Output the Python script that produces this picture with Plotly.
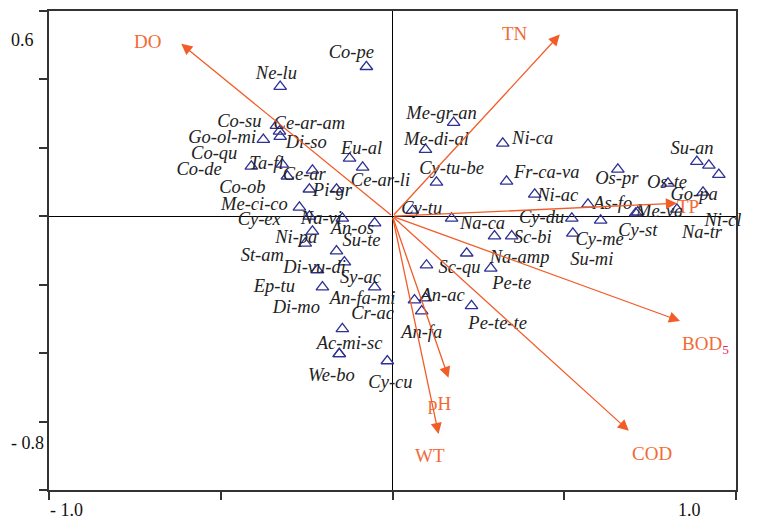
import plotly.graph_objects as go

# ---- species (triangles) ----
species = ["Co-pe", "Ne-lu", "Co-su", "Ce-ar-am", "Di-so", "Go-ol-mi", "Co-qu", "Co-de",
           "Ta-fl", "Ce-ar", "Co-ob", "Eu-al", "Ce-ar-li", "Pi-gr", "Me-ci-co", "Cy-ex",
           "Na-vi", "An-os", "Ni-pa", "St-am", "Su-te", "Di-vu-di", "Sy-ac", "Ep-tu",
           "An-fa-mi", "Di-mo", "Cr-ac", "Ac-mi-sc", "We-bo", "Cy-cu",
           "Me-gr-an", "Me-di-al", "Ni-ca", "Cy-tu-be", "Fr-ca-va", "Ni-ac", "Cy-tu", "Na-ca",
           "Cy-du", "Sc-bi", "Su-mi", "Cy-me", "As-fo", "Cy-st", "Os-pr", "Os-te", "Su-an",
           "Ta-fe", "Ni-eg", "Go-pa", "Me-va", "Na-tr", "Ni-cl", "Na-amp", "Sc-qu", "Pe-te",
           "An-ac", "An-fa", "Pe-te-te"]
sp_x = [-0.076, -0.327, -0.338, -0.329, -0.327, -0.376, -0.411, -0.233,
        -0.321, -0.306, -0.242, -0.125, -0.087, -0.163, -0.271, -0.242,
        -0.146, -0.052, -0.233, -0.254, -0.163, -0.219, -0.052, -0.204,
        0.064, -0.140, -0.146, -0.155, -0.155, -0.015,
        0.178, 0.096, 0.321, 0.128, 0.332, 0.414, 0.058, 0.172,
        0.522, 0.347, 0.297, 0.525, 0.569, 0.606, 0.656, 0.802, 0.886,
        0.921, 0.950, 0.904, 0.714, 0.708, 0.828, 0.216, 0.099, 0.286,
        0.096, 0.085, 0.230]
sp_y = [0.437, 0.379, 0.265, 0.248, 0.233, 0.224, 0.146, 0.134,
        0.152, 0.117, 0.079, 0.169, 0.143, 0.079, 0.026, 0.000,
        -0.006, -0.020, -0.044, -0.079, -0.102, -0.157, -0.207, -0.207,
        -0.245, -0.134, -0.329, -0.402, -0.402, -0.423,
        0.274, 0.195, 0.213, 0.099, 0.102, 0.064, 0.017, -0.006,
        -0.006, -0.058, -0.058, -0.050, 0.035, -0.012, 0.137, 0.096, 0.160,
        0.149, 0.122, 0.070, 0.012, 0.009, 0.020, -0.108, -0.143, -0.152,
        -0.239, -0.277, -0.262]
# label anchor positions (axis units)
lab_x = [-0.120, -0.338, -0.446, -0.242, -0.251, -0.496, -0.519, -0.563,
         -0.367, -0.257, -0.437, -0.090, -0.035, -0.175, -0.402, -0.388,
         -0.207, -0.117, -0.280, -0.379, -0.090, -0.227, -0.093, -0.344,
         -0.087, -0.280, -0.058, -0.125, -0.178, -0.006,
         0.143, 0.128, 0.408, 0.172, 0.449, 0.481, 0.085, 0.262,
         0.434, 0.408, 0.580, 0.603, 0.641, 0.714, 0.653, 0.799, 0.872,
         1.003, 1.032, 0.878, 0.778, 0.901, 0.962, 0.370, 0.195, 0.347,
         0.146, 0.085, 0.306]
lab_y = [0.475, 0.414, 0.274, 0.268, 0.213, 0.227, 0.181, 0.134,
         0.152, 0.120, 0.082, 0.195, 0.102, 0.073, 0.032, -0.012,
         -0.009, -0.038, -0.064, -0.117, -0.073, -0.152, -0.181, -0.207,
         -0.242, -0.268, -0.286, -0.373, -0.469, -0.487,
         0.297, 0.222, 0.224, 0.137, 0.125, 0.058, 0.020, -0.023,
         -0.006, -0.064, -0.128, -0.070, 0.035, -0.044, 0.108, 0.096, 0.195,
         0.152, 0.096, 0.061, 0.012, -0.050, -0.015, -0.122, -0.152, -0.198,
         -0.233, -0.341, -0.315]

# ---- environmental variables (arrows) ----
env = ["DO", "TN", "TP", "BOD5", "COD", "pH", "WT"]
env_x = [-0.615, 0.487, 0.828, 0.837, 0.688, 0.163, 0.134]
env_y = [0.504, 0.531, 0.038, -0.306, -0.627, -0.472, -0.636]
env_lab_x = [-0.714, 0.356, 0.860, 0.910, 0.755, 0.137, 0.108]
env_lab_y = [0.510, 0.534, 0.029, -0.376, -0.694, -0.548, -0.700]

ARROW = "#F25C27"
LABC = "#F26A35"
TRI = "#2E3192"
SERIF = "Liberation Serif"

fig = go.Figure()
fig.add_trace(go.Scatter(
    x=sp_x, y=sp_y, mode="markers",
    marker=dict(symbol="triangle-up-open", size=11, color=TRI, line=dict(width=1.3, color=TRI)),
    showlegend=False, hoverinfo="skip"))
fig.add_trace(go.Scatter(
    x=lab_x, y=lab_y, mode="text", text=species,
    textfont=dict(family=SERIF, size=18.5, color="#222222", style="italic"),
    textposition="middle center", cliponaxis=False, showlegend=False, hoverinfo="skip"))

annotations = []
for name, ex, ey, lx, ly in zip(env, env_x, env_y, env_lab_x, env_lab_y):
    annotations.append(dict(x=ex, y=ey, ax=0, ay=0, xref="x", yref="y", axref="x", ayref="y",
                            showarrow=True, arrowhead=2, arrowsize=1.7, arrowwidth=1.3,
                            arrowcolor=ARROW, text=""))
    txt = name
    if name == "BOD5":
        txt = "BOD<sub><span style='color:#E8285A'>5</span></sub>"
    annotations.append(dict(x=lx, y=ly, xref="x", yref="y", text=txt, showarrow=False,
                            font=dict(family=SERIF, size=19, color=LABC)))

# axis tick labels (placed as in the reference)
tick_font = dict(family=SERIF, size=18, color="#111111")
annotations += [
    dict(x=-0.95, y=-0.0416, xref="x", yref="paper", text="- 1.0", showarrow=False,
         font=tick_font, xanchor="center", yanchor="middle"),
    dict(x=0.866, y=-0.0416, xref="x", yref="paper", text="1.0", showarrow=False,
         font=tick_font, xanchor="center", yanchor="middle"),
    dict(x=-0.039, y=0.516, xref="paper", yref="y", text="0.6", showarrow=False,
         font=tick_font, xanchor="center", yanchor="middle"),
    dict(x=-0.032, y=-0.662, xref="paper", yref="y", text="- 0.8", showarrow=False,
         font=tick_font, xanchor="center", yanchor="middle"),
]

fig.update_layout(
    width=761, height=515,
    margin=dict(l=41, r=33, t=1, b=33),
    paper_bgcolor="white", plot_bgcolor="white",
    annotations=annotations,
    xaxis=dict(range=[-1.0, 1.0], showgrid=False, zeroline=True, zerolinecolor="black",
               zerolinewidth=1, showline=True, linecolor="#333333", linewidth=1.5, mirror=True,
               ticks="outside", ticklen=8, tickcolor="#333333", tickwidth=1.5,
               tickvals=[-1.0, -0.5, 0, 0.5, 1.0], showticklabels=False),
    yaxis=dict(range=[-0.8, 0.6], showgrid=False, zeroline=True, zerolinecolor="black",
               zerolinewidth=1, showline=True, linecolor="#333333", linewidth=1.5, mirror=True,
               ticks="outside", ticklen=8, tickcolor="#333333", tickwidth=1.5,
               tickvals=[-0.8, -0.6, -0.4, -0.2, 0, 0.2, 0.4, 0.6], showticklabels=False),
)

fig.write_html("out.html")
